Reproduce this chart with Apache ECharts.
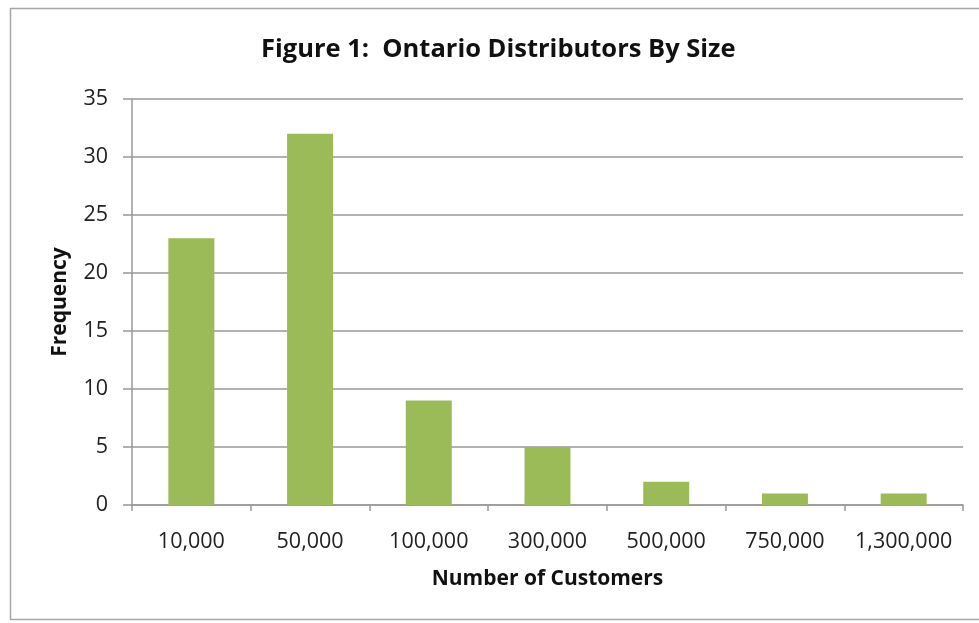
<!DOCTYPE html>
<html><head><meta charset="utf-8">
<script src="https://cdn.jsdelivr.net/npm/echarts@6/dist/echarts.min.js"></script>
<style>html,body{margin:0;padding:0;background:#fff}#c{width:979px;height:623px}</style>
</head><body><div id="c"></div>
<script>
const categories = ['10,000','50,000','100,000','300,000','500,000','750,000','1,300,000'];
const frequency = [23, 32, 9, 5, 2, 1, 1];
const titleText = 'Figure 1:  Ontario Distributors By Size';
const xName = 'Number of Customers';
const yName = 'Frequency';

const chart = echarts.init(document.getElementById('c'), null, {renderer:'canvas'});
const FONT = 'Open Sans';
chart.setOption({
  animation:false,
  backgroundColor:'#fff',
  graphic:[{type:'rect', shape:{x:10.5, y:8.5, width:1000, height:611}, style:{fill:'none', stroke:'#a6a6a6', lineWidth:1.5}, silent:true}],
  title:{text:titleText, left:256, top:32, textStyle:{fontFamily:FONT, fontSize:25.5, fontWeight:'bold', color:'#111'}},
  grid:{left:132, right:16, top:99, bottom:118, containLabel:false},
  xAxis:{type:'category', data:categories,
    name:xName, nameLocation:'middle', nameGap:64,
    nameTextStyle:{fontFamily:FONT, fontSize:21, fontWeight:'bold', color:'#111'},
    axisLine:{lineStyle:{color:'#999', width:1.5}},
    axisTick:{show:true, interval:0, alignWithLabel:false, length:6, lineStyle:{color:'#999', width:1.5}},
    axisLabel:{interval:0, hideOverlap:false, fontFamily:FONT, fontSize:21.5, color:'#222', margin:26}},
  yAxis:{type:'value', min:0, max:35, interval:5,
    name:yName, nameLocation:'middle', nameGap:61, nameRotate:90,
    nameTextStyle:{fontFamily:FONT, fontSize:21, fontWeight:'bold', color:'#111'},
    axisLine:{show:true, lineStyle:{color:'#999', width:1.5}},
    axisTick:{show:true, length:9, lineStyle:{color:'#999', width:1.5}},
    axisLabel:{fontFamily:FONT, fontSize:21.5, color:'#222', margin:24},
    splitLine:{show:true, lineStyle:{color:'#999', width:1.5}}},
  series:[{type:'bar', data:frequency, barWidth:46, itemStyle:{color:'#9bbb59'}}]
});
</script></body></html>
